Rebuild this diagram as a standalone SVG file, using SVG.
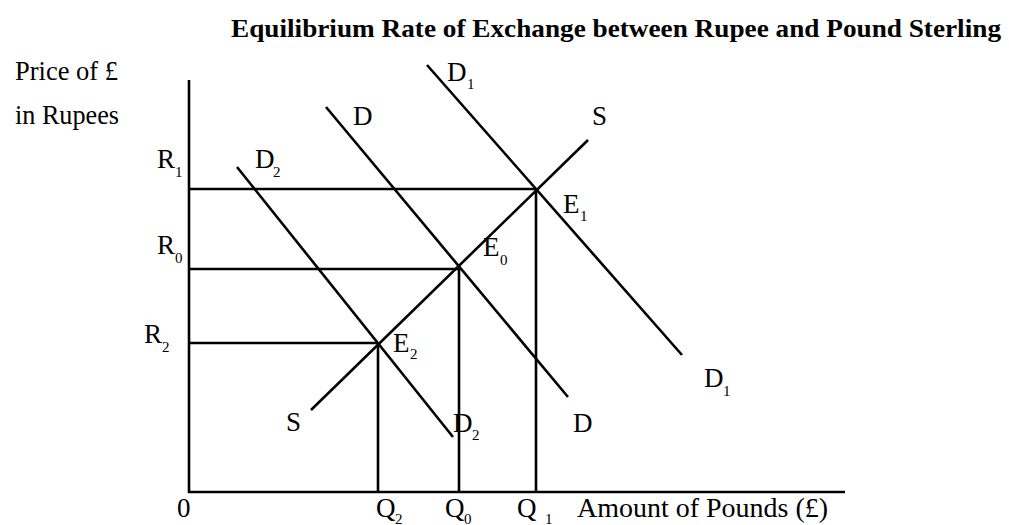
<svg xmlns="http://www.w3.org/2000/svg" width="1009" height="525" viewBox="0 0 1009 525">
<style>
text{font-family:"Liberation Serif","Times New Roman",serif;fill:#000}
.t{font-size:27px}
.s{font-size:15px}
.title{font-size:26px;font-weight:bold}
line{stroke:#000;stroke-width:2.6;stroke-linecap:butt}
</style>
<rect width="1009" height="525" fill="#fff"/>
<text class="title" x="231" y="37" textLength="770" lengthAdjust="spacingAndGlyphs">Equilibrium Rate of Exchange between Rupee and Pound Sterling</text>
<g id="axes">
<line x1="189" y1="80" x2="189" y2="493"/>
<line x1="188" y1="492" x2="845" y2="492"/>
<text class="t" x="15" y="80" textLength="103" lengthAdjust="spacingAndGlyphs">Price of £</text>
<text class="t" x="15" y="124" textLength="104" lengthAdjust="spacingAndGlyphs">in Rupees</text>
<text class="t" x="177" y="517">0</text>
<text class="t" x="577" y="517" textLength="251" lengthAdjust="spacingAndGlyphs">Amount of Pounds (£)</text>
</g>
<g id="connectors">
<line x1="189" y1="189" x2="536" y2="189"/>
<line x1="189" y1="269" x2="459" y2="269"/>
<line x1="189" y1="343" x2="378" y2="343"/>
<line x1="378" y1="343" x2="378" y2="492"/>
<line x1="459" y1="269" x2="459" y2="492"/>
<line x1="536" y1="189" x2="536" y2="492"/>
</g>
<g id="supply">
<line x1="311" y1="410" x2="588" y2="140"/>
<text class="t" x="592" y="125">S</text>
<text class="t" x="286" y="431">S</text>
</g>
<g id="demand-D">
<line x1="326" y1="107" x2="568" y2="397"/>
<text class="t" x="353" y="125">D</text>
<text class="t" x="573" y="432">D</text>
</g>
<g id="demand-D1">
<line x1="427" y1="65" x2="682" y2="355"/>
<text class="t" x="447" y="81">D</text><text class="s" x="467" y="89">1</text>
<text class="t" x="704" y="387">D</text><text class="s" x="723" y="396">1</text>
</g>
<g id="demand-D2">
<line x1="237" y1="167" x2="453" y2="437"/>
<text class="t" x="255" y="168">D</text><text class="s" x="273" y="177">2</text>
<text class="t" x="453" y="432">D</text><text class="s" x="472" y="440">2</text>
</g>
<g id="price-labels">
<text class="t" x="157" y="168">R</text><text class="s" x="175" y="177">1</text>
<text class="t" x="157" y="254">R</text><text class="s" x="175" y="263">0</text>
<text class="t" x="144" y="343">R</text><text class="s" x="162" y="352">2</text>
</g>
<g id="equilibria">
<text class="t" x="563" y="213">E</text><text class="s" x="580" y="221">1</text>
<text class="t" x="483" y="256">E</text><text class="s" x="500" y="265">0</text>
<text class="t" x="393" y="352">E</text><text class="s" x="410" y="359">2</text>
</g>
<g id="quantity-labels">
<text class="t" x="376" y="517">Q</text><text class="s" x="395" y="524">2</text>
<text class="t" x="445" y="517">Q</text><text class="s" x="464" y="524">0</text>
<text class="t" x="517" y="517">Q</text><text class="s" x="545" y="524">1</text>
</g>
</svg>
